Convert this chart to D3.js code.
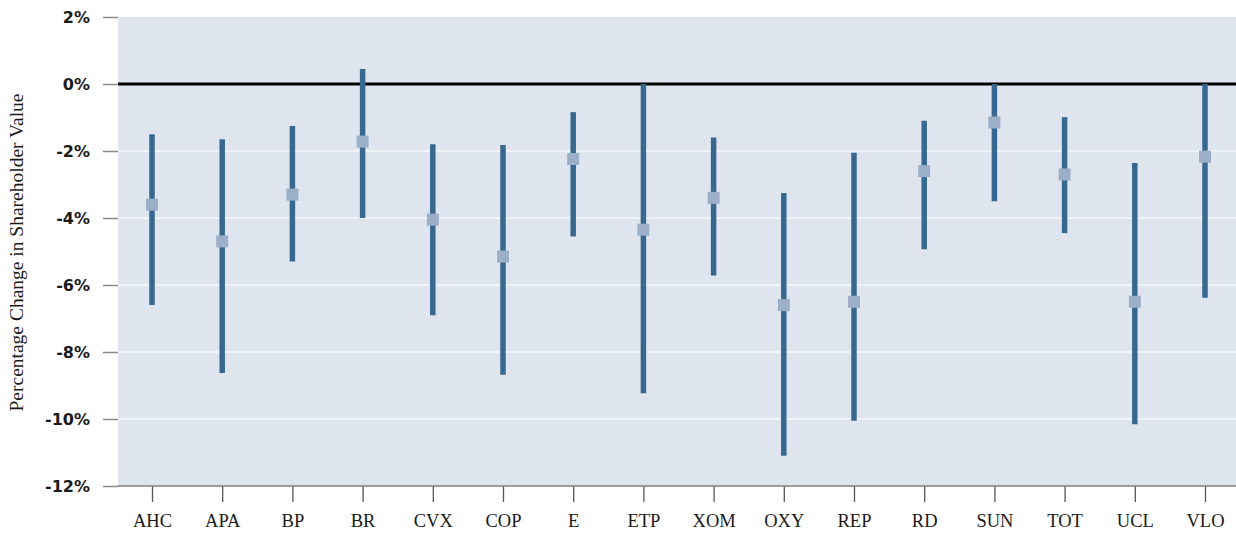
<!DOCTYPE html>
<html><head><meta charset="utf-8">
<script src="https://cdn.jsdelivr.net/npm/d3@7"></script>
<style>html,body{margin:0;padding:0;background:#fff;}svg{display:block;}</style>
</head><body>
<svg id="chart" width="1236" height="533"></svg>
<script>
const categories = ["AHC","APA","BP","BR","CVX","COP","E","ETP","XOM","OXY","REP","RD","SUN","TOT","UCL","VLO"];
const highValues = [-1.5,-1.65,-1.25,0.45,-1.8,-1.82,-0.84,0,-1.6,-3.25,-2.05,-1.1,0,-0.99,-2.36,0];
const lowValues  = [-6.6,-8.63,-5.3,-4.0,-6.9,-8.68,-4.55,-9.23,-5.72,-11.1,-10.05,-4.93,-3.5,-4.45,-10.16,-6.38];
const midValues  = [-3.6,-4.7,-3.3,-1.72,-4.05,-5.15,-2.24,-4.35,-3.4,-6.6,-6.5,-2.6,-1.15,-2.7,-6.5,-2.17];
const yTicks = [2,0,-2,-4,-6,-8,-10,-12];
const yTitle = "Percentage Change in Shareholder Value";

const data = categories.map((c,i)=>({cat:c, hi:highValues[i], lo:lowValues[i], mid:midValues[i]}));
const svg = d3.select("#chart");
const L=118, R=1236, T=17, B=486;
const x = d3.scalePoint().domain(categories).range([152,1205]);
const y = d3.scaleLinear().domain([-12,2]).range([B,T]);

svg.append("rect").attr("x",L).attr("y",T).attr("width",R-L).attr("height",B-T).attr("fill","#dfe5ee");

// gridlines
svg.append("g").selectAll("line").data(yTicks.filter(d=>d!==2 && d!==-12 && d!==0)).join("line")
  .attr("x1",L).attr("x2",R).attr("y1",d=>y(d)).attr("y2",d=>y(d))
  .attr("stroke","#f4f6f9").attr("stroke-width",1.5);

// y axis
const yAxis = d3.axisLeft(y).tickValues(yTicks).tickSize(15).tickPadding(13).tickFormat(d=>d+"%");
const gy = svg.append("g").attr("transform",`translate(${L},0)`).call(yAxis);
gy.select(".domain").remove();
gy.selectAll(".tick line").attr("stroke","#8a8a8a").attr("stroke-width",1.5);
gy.selectAll(".tick text").attr("font-family","'DejaVu Sans', sans-serif").attr("font-weight","bold")
  .attr("font-size","16px").attr("fill","#1a1a1a");

// x axis
const xAxis = d3.axisBottom(x).tickSize(16).tickPadding(12);
const gx = svg.append("g").attr("transform",`translate(0,${B})`).call(xAxis);
gx.select(".domain").remove();
gx.selectAll(".tick line").attr("stroke","#555").attr("stroke-width",1.3);
gx.selectAll(".tick text").attr("font-family","'Liberation Serif', 'DejaVu Serif', serif")
  .attr("font-size","18.5px").attr("fill","#1a1a1a");
svg.append("line").attr("x1",L).attr("x2",R).attr("y1",B).attr("y2",B).attr("stroke","#7f7f7f").attr("stroke-width",1.5);

// zero line
svg.append("line").attr("x1",L).attr("x2",R).attr("y1",y(0)).attr("y2",y(0)).attr("stroke","#000").attr("stroke-width",3);

// range bars
svg.append("g").selectAll("line").data(data).join("line")
  .attr("x1",d=>x(d.cat)).attr("x2",d=>x(d.cat))
  .attr("y1",d=>y(d.hi)).attr("y2",d=>y(d.lo))
  .attr("stroke","#386890").attr("stroke-width",5.5);

// markers
const ms=12;
svg.append("g").selectAll("rect").data(data).join("rect")
  .attr("x",d=>x(d.cat)-ms/2).attr("y",d=>y(d.mid)-ms/2)
  .attr("width",ms).attr("height",ms).attr("fill","#9bb0c8");

// y title
svg.append("text").attr("transform",`translate(23,${(85+420)/2}) rotate(-90)`)
  .attr("text-anchor","middle").attr("font-family","'Liberation Serif', 'DejaVu Serif', serif")
  .attr("font-size","19.5px").attr("fill","#1a1a1a").text(yTitle);
</script>
</body></html>
